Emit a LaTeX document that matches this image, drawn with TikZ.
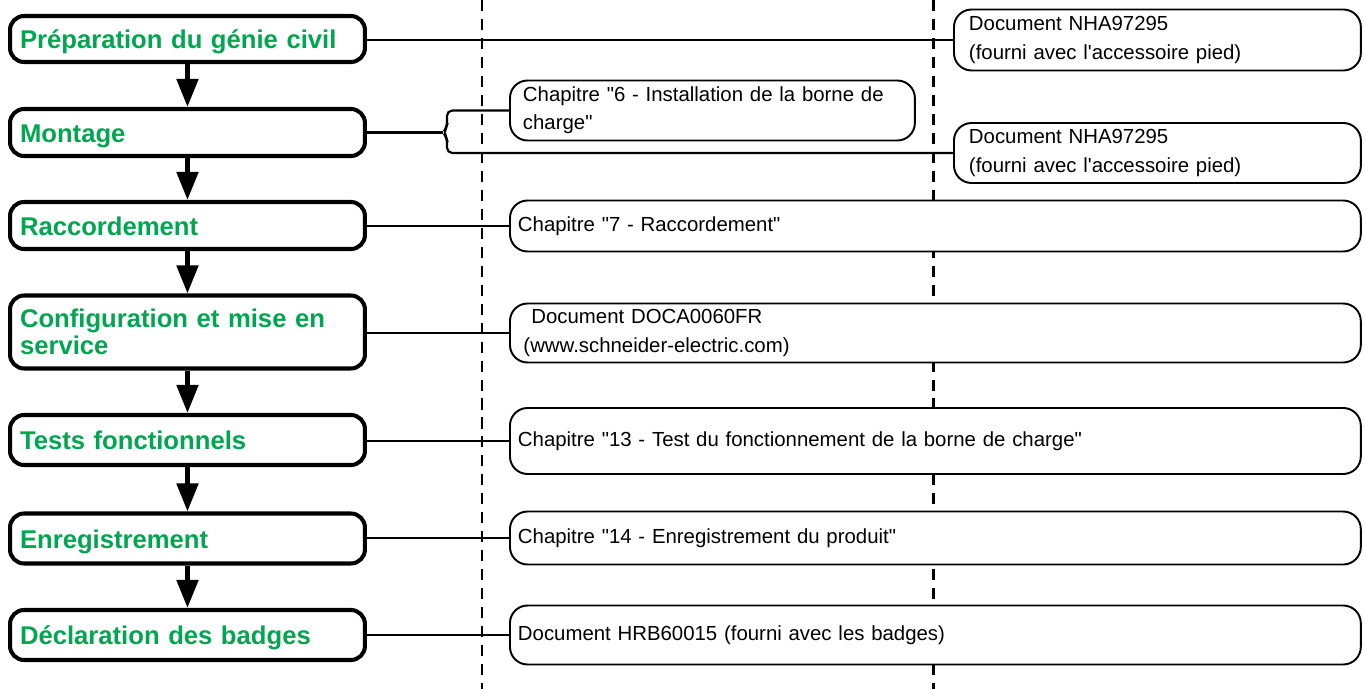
\documentclass[tikz,border=0pt]{standalone}
\usepackage{fontspec}
\setmainfont{Liberation Sans}[Ligatures=TeXOff]
\usetikzlibrary{arrows.meta}
\definecolor{stagegreen}{RGB}{0,166,80}

\begin{document}
\begin{tikzpicture}
[
    x=0.02cm, y=-0.02cm,
    stage/.style={draw, line width=2.3pt, rounded corners=8pt, fill=white,
        anchor=west, minimum width=7.1cm, text width=6.7cm, align=left,
        inner xsep=0.2cm, inner ysep=2pt, text=stagegreen,
        font=\fontsize{14.6}{15.4}\selectfont\bfseries},
    oneline/.style={stage, text height=11.5pt, text depth=0.5pt},
    doc/.style={draw, line width=1.1pt, rounded corners=10pt, fill=white,
        anchor=west, align=left, inner ysep=2pt,
        font=\fontsize{11.6}{16}\selectfont},
    wide/.style={doc, minimum width=17.02cm, inner xsep=0.16cm, text width=16.7cm},
    narrow/.style={doc, minimum width=8.14cm, inner xsep=0.3cm, text width=7.54cm},
    flow/.style={line width=2.8pt, -{Triangle[length=16pt, width=12pt]}},
    link/.style={line width=1.2pt},
    guide/.style={line width=1.7pt, dash pattern=on 6.3pt off 4.5pt}
]
    \useasboundingbox (0,0) rectangle (1366,689);

    \draw[guide] (482,0) -- (482,689);
    \draw[guide] (933,0) -- (933,689);

    \node[oneline, minimum height=0.92cm] (prep) at (8,39) {Préparation du génie civil};
    \node[oneline, minimum height=0.94cm] (montage) at (8,132.5) {Montage};
    \node[oneline, minimum height=0.94cm] (racc) at (8,225.5) {Raccordement};
    \node[stage, minimum height=1.46cm] (config) at (8,332) {Configuration et mise en\\service};
    \node[oneline, minimum height=1.0cm] (tests) at (8,440) {Tests fonctionnels};
    \node[oneline, minimum height=1.0cm] (enreg) at (8,538.5) {Enregistrement};
    \node[oneline, minimum height=1.0cm] (badges) at (8,635) {Déclaration des badges};

    \node[narrow, minimum height=1.22cm] (piedA) at (953,40)
        {Document NHA97295\\(fourni avec l'accessoire pied)};
    \node[narrow, minimum width=8.1cm, inner xsep=0.26cm, text width=7.58cm,
        minimum height=1.2cm] (chapsix) at (509,110.5)
        {Chapitre "6 - Installation de la borne de\\charge"};
    \node[narrow, minimum height=1.2cm] (piedB) at (953,153)
        {Document NHA97295\\(fourni avec l'accessoire pied)};
    \node[wide, minimum height=1.02cm] (chapsept) at (509,226)
        {Chapitre "7 - Raccordement"};
    \node[wide, inner xsep=0.27cm, text width=16.48cm, minimum height=1.18cm] (doca) at (509,333)
        {\hspace*{4.5pt}Document DOCA0060FR\\(www.schneider-electric.com)};
    \node[wide, minimum height=1.32cm] (chaptreize) at (509,441)
        {Chapitre "13 - Test du fonctionnement de la borne de charge"};
    \node[wide, minimum height=1.06cm] (chapquatorze) at (509,538)
        {Chapitre "14 - Enregistrement du produit"};
    \node[wide, minimum height=1.18cm] (badgedoc) at (509,635)
        {Document HRB60015 (fourni avec les badges)};

    \draw[link] (prep.east |- piedA.west) -- (piedA.west);
    \coordinate (brace) at (443,132.5);
    \draw[link] (montage.east) -- (brace);
    \draw[link, rounded corners=3pt] (chapsix.west) -| (447,127) -- (brace)
        -- (447,138) |- (piedB.west);
    \draw[link] (racc.east |- chapsept.west) -- (chapsept.west);
    \draw[link] (config.east |- doca.west) -- (doca.west);
    \draw[link] (tests.east |- chaptreize.west) -- (chaptreize.west);
    \draw[link] (enreg.east |- chapquatorze.west) -- (chapquatorze.west);
    \draw[link] (badges.east |- badgedoc.west) -- (badgedoc.west);

    \draw[flow] (prep) -- (montage);
    \draw[flow] (montage) -- (racc);
    \draw[flow] (racc) -- (config);
    \draw[flow] (config) -- (tests);
    \draw[flow] (tests) -- (enreg);
    \draw[flow] (enreg) -- (badges);
\end{tikzpicture}
\end{document}
